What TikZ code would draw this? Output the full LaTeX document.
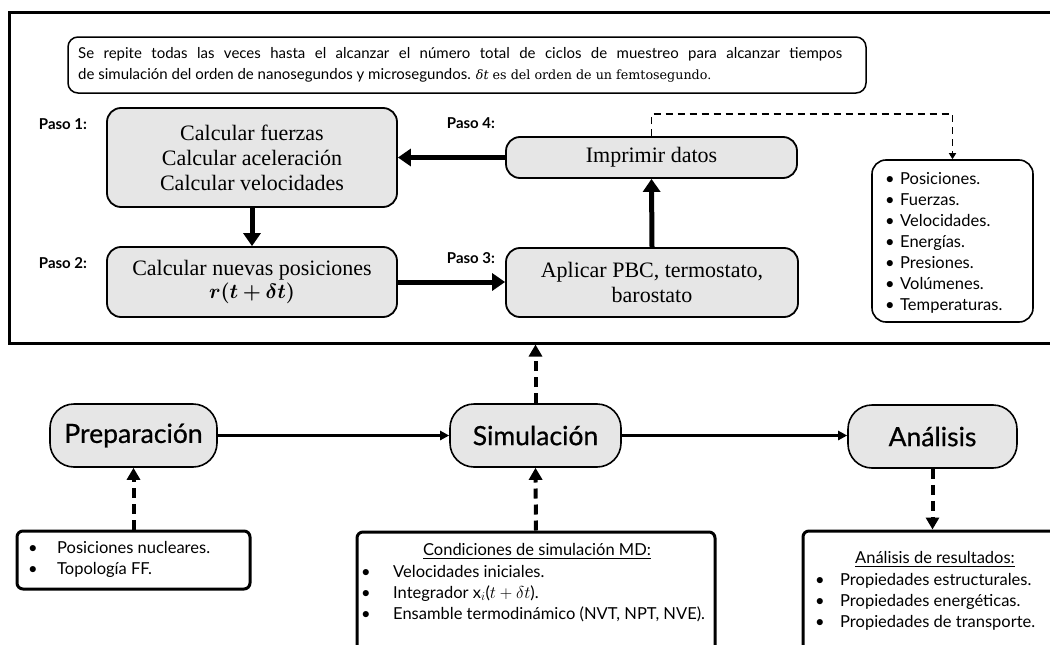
\documentclass[tikz,border=0pt]{standalone}
\usepackage{fontspec}
\setmainfont{Liberation Serif}
\setsansfont{Lato}
\newfontfamily\cambriaish{DejaVu Serif}
\newfontfamily\pillfont[FakeBold=0.6]{Lato}
\usepackage{amsmath,bm}
\usetikzlibrary{arrows.meta}
\definecolor{boxgray}{HTML}{E6E6E6}
\newcommand\blt[2]{\makebox[#1][l]{\textbullet}#2}
\begin{document}
\begin{tikzpicture}[x=1pt,y=-1pt,
  outerbox/.style={draw, line width=3pt, inner sep=0pt},
  stepbox/.style={draw, line width=1.8pt, rounded corners=14pt, fill=boxgray, inner sep=0pt, align=center, font=\fontsize{22}{25}\selectfont},
  pill/.style={draw, line width=1.6pt, rounded corners=24pt, fill=boxgray, inner sep=0pt, font=\pillfont\fontsize{26.5}{30}\selectfont},
  notebox/.style={draw, line width=1.5pt, rounded corners=10pt, inner sep=0pt},
  listbox/.style={draw, line width=1.6pt, rounded corners=14pt, inner sep=0pt},
  infobox/.style={draw, line width=3pt, rounded corners=6pt, inner sep=0pt},
  listtext/.style={inner sep=0pt, align=left, font=\sffamily\fontsize{16.5}{21}\selectfont},
  pasolabel/.style={inner sep=0pt, font=\sffamily\bfseries\fontsize{15}{16}\selectfont},
  bigarrow/.style={line width=5pt, -{Triangle[length=13pt,width=17pt]}},
  dasharrow/.style={line width=4pt, dash pattern=on 10pt off 6pt, -{Triangle[length=12pt,width=13pt]}},
  thinarrow/.style={line width=2.2pt, -{Triangle[length=9pt,width=9pt]}},
  thindash/.style={line width=1.8pt, dash pattern=on 7pt off 5pt, -{Triangle[length=6pt,width=7pt]}}
]
\useasboundingbox (0,0) rectangle (1050,645);
\clip (0,0) rectangle (1050,645);
\fill[white] (0,0) rectangle (1050,645);

% outer frame
\node[outerbox, minimum width=1056pt, minimum height=331pt] (outer) at (537,177.5) {};

% note
\node[notebox, minimum width=798pt, minimum height=56pt] (note) at (467,65) {};
\node[inner sep=0pt, anchor=north west, align=left, font=\sffamily\fontsize{15}{21}\selectfont] (notetxt) at (78,47.5)
  {\makebox[764pt][s]{Se repite todas las veces hasta el alcanzar el número total de ciclos de muestreo para alcanzar tiempos}\\
   de simulación del orden de nanosegundos y microsegundos. {\cambriaish\fontsize{12.7}{21}\selectfont{\itshape δt} es del orden de un femtosegundo.}};

% steps
\node[stepbox, minimum width=290pt, minimum height=99pt] (s1) at (252,157.5)
  {Calcular fuerzas\\Calcular aceleración\\Calcular velocidades};
\node[stepbox, minimum width=291pt, minimum height=41pt] (s4) at (651.5,157.5) {Imprimir datos};
\node[stepbox, minimum width=290pt, minimum height=70pt] (s2) at (252,282)
  {Calcular nuevas posiciones\\[-2pt]$\bm{r(t+\delta t)}$};
\node[stepbox, minimum width=292pt, minimum height=69pt] (s3) at (652,282.5)
  {Aplicar PBC, termostato,\\barostato};

\node[pasolabel] (p1) at (63,124) {Paso 1:};
\node[pasolabel] (p2) at (63,263) {Paso 2:};
\node[pasolabel] (p4) at (471,123) {Paso 4:};
\node[pasolabel] (p3) at (471,258) {Paso 3:};

\draw[bigarrow] (s4.west) -- (s1.east |- s4.west);
\draw[bigarrow] (s1.south) -- (s2.north);
\draw[bigarrow] (s2.east) -- (s3.west |- s2.east);
\draw[bigarrow] (s3.north) -- (s4.south);

% output list
\node[listbox, minimum width=161pt, minimum height=162pt] (out) at (952.5,241) {};
\node[listtext, anchor=north west] (outtxt) at (885,172.5)
  {\blt{15pt}{Posiciones.}\\\blt{15pt}{Fuerzas.}\\\blt{15pt}{Velocidades.}\\\blt{15pt}{Energías.}\\\blt{15pt}{Presiones.}\\\blt{15pt}{Volúmenes.}\\\blt{15pt}{Temperaturas.}};
\draw[thindash] (s4.north) -- ++(0,-22) -| (out.north);

% bottom stages
\node[pill, minimum width=167pt, minimum height=63pt] (prep) at (133.5,435.5) {Preparación};
\node[pill, minimum width=171pt, minimum height=63pt] (sim) at (535.5,435.5) {Simulación};
\node[pill, minimum width=169pt, minimum height=63pt] (anal) at (932.5,436.5) {Análisis};

\draw[thinarrow] (prep.east) -- (sim.west);
\draw[thinarrow] (sim.east) -- (anal.west |- sim.east);
\draw[dasharrow] (sim.north) -- (sim.north |- outer.south);

% info boxes
\node[infobox, minimum width=233pt, minimum height=58pt] (prepinfo) at (133.5,560) {};
\node[listtext, anchor=north west] (preptxt) at (28,541.5)
  {\blt{29pt}{Posiciones nucleares.}\\\blt{29pt}{Topología FF.}};
\draw[dasharrow] (prepinfo.north) -- (prep.south);

\node[infobox, minimum width=358pt, minimum height=140pt] (condinfo) at (536,602) {};
\node[listtext, anchor=north] (condtitle) at (537,543) {\underline{Condiciones de simulación MD:}};
\node[listtext, anchor=north west] (condtxt) at (361,565)
  {\blt{32pt}{Velocidades iniciales.}\\\blt{32pt}{Integrador x$_i$($t+\delta t$).}\\\blt{32pt}{Ensamble termodinámico (NVT, NPT, NVE).}};
\draw[dasharrow] (condinfo.north) -- (sim.south);

\node[infobox, minimum width=260pt, minimum height=140pt] (analinfo) at (933,601) {};
\node[listtext, anchor=north] (analtitle) at (935,551) {\underline{Análisis de resultados:}};
\node[listtext, anchor=north west] (analtxt) at (815,573)
  {\blt{25pt}{Propiedades estructurales.}\\\blt{25pt}{Propiedades energéticas.}\\\blt{25pt}{Propiedades de transporte.}};
\draw[dasharrow] (anal.south) -- (anal.south |- analinfo.north);
\end{tikzpicture}
\end{document}
